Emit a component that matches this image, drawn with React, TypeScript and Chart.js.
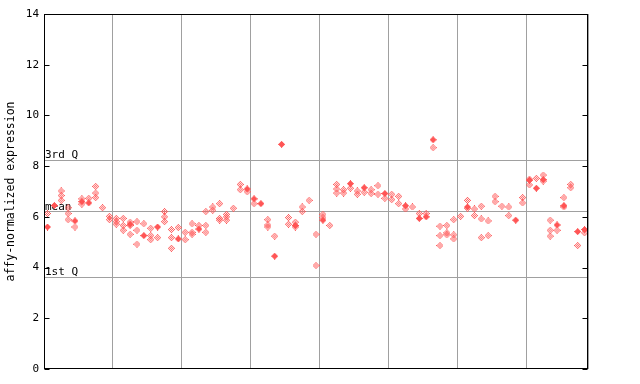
import { useEffect, useRef } from 'react';
import { Chart, registerables } from 'chart.js';
Chart.register(...registerables);

const yTicks = [0, 2, 4, 6, 8, 10, 12, 14];
const quartileValues = [3.63, 6.23, 8.24];
const quartileLabels = ['1st Q', 'mean', '3rd Q'];
const groupBoundaries = [0, 10, 20, 30, 40, 50, 60, 70, 79];
const yTitle = 'affy-normalized expression';

// per sample slot (79 slots): values drawn as checkered diamonds
const hollowValues: number[][] = [
  [6.13], [], [7.02, 6.84, 6.65], [6.36, 6.13, 5.89], [5.6], [6.71, 6.5], [6.73], [7.2, 6.94, 6.76], [6.36], [6.02, 5.89],
  [5.94, 5.81, 5.71], [5.94, 5.66, 5.47], [5.79, 5.66, 5.31], [5.81, 5.47, 4.92], [5.73], [5.55, 5.26, 5.1], [5.18], [6.21, 6.0, 5.81], [5.5, 5.18, 4.76], [5.58],
  [5.39, 5.1], [5.73, 5.39, 5.31], [5.66], [6.21, 5.66, 5.39], [6.39, 6.26], [6.52, 5.94, 5.87], [6.1, 6.0, 5.87], [6.34], [7.28, 7.07], [6.99],
  [6.52], [], [5.89, 5.68, 5.6], [5.24], [], [5.97, 5.71], [5.79, 5.6], [6.39, 6.21], [6.65], [5.31, 4.08],
  [6.1, 5.97], [5.66], [7.28, 7.1, 6.94], [7.07, 6.94], [7.13], [7.02, 6.89], [6.97], [7.07, 6.92], [7.23, 6.89], [6.73],
  [6.89, 6.68], [6.81, 6.52], [6.31], [6.39], [6.13], [6.13], [8.73], [5.63, 5.26, 4.87], [5.66, 5.37, 5.29], [5.89, 5.29, 5.13],
  [6.02], [6.65, 6.34], [6.31, 6.05], [6.42, 5.92, 5.18], [5.84, 5.26], [6.81, 6.6], [6.42], [6.39, 6.05], [], [6.76, 6.55],
  [7.49, 7.26], [7.52], [7.65, 7.41], [5.87, 5.47, 5.24], [5.47], [6.76, 6.39], [7.28, 7.15], [4.87], [5.37],
];

// per sample slot: values drawn as solid diamonds
const solidValues: number[][] = [
  [5.6], [6.45], [], [], [5.84], [6.6], [6.55], [], [], [],
  [], [], [5.71], [], [5.26], [], [5.6], [], [], [5.13],
  [], [], [5.52], [], [], [], [], [], [], [7.1],
  [6.71], [6.52], [], [4.45], [8.86], [], [5.66], [], [], [],
  [5.87], [], [], [], [7.31], [], [7.15], [], [], [6.92],
  [], [], [6.44], [], [5.94], [6.0], [9.04], [], [], [],
  [], [6.39], [], [], [], [], [], [], [5.87], [],
  [7.44], [7.13], [7.47], [], [5.68], [6.44], [], [5.42], [5.5],
];

const RED = '#ff5555';
const FONT = '"DejaVu Sans Mono", monospace';

function makeMarker(filled: boolean): HTMLCanvasElement {
  const c = document.createElement('canvas');
  c.width = 7;
  c.height = 7;
  const ctx = c.getContext('2d')!;
  ctx.fillStyle = RED;
  for (let y = 0; y < 7; y++) {
    for (let x = 0; x < 7; x++) {
      const d = Math.abs(x - 3) + Math.abs(y - 3);
      if (d <= 3 && (filled || (x + y) % 2 === 1)) ctx.fillRect(x, y, 1, 1);
    }
  }
  return c;
}

function toPoints(rows: number[][]) {
  const pts: { x: number; y: number }[] = [];
  rows.forEach((vals, i) => vals.forEach((v) => pts.push({ x: i + 0.5, y: v })));
  return pts;
}

const overlay = {
  id: 'overlay',
  beforeDatasetsDraw(chart: any) {
    const { ctx, chartArea } = chart;
    const ys = chart.scales.y;
    ctx.save();
    ctx.strokeStyle = '#a0a0a0';
    ctx.lineWidth = 1;
    quartileValues.forEach((v, i) => {
      const py = Math.round(ys.getPixelForValue(v)) + 0.5;
      ctx.beginPath();
      ctx.moveTo(chartArea.left, py);
      ctx.lineTo(chartArea.right, py);
      ctx.stroke();
      ctx.fillStyle = '#000';
      ctx.font = `11px ${FONT}`;
      ctx.textAlign = 'left';
      ctx.textBaseline = 'bottom';
      ctx.fillText(quartileLabels[i], chartArea.left + 1, py + (i === 1 ? 1 : 0));
    });
    ctx.restore();
  },
  afterDraw(chart: any) {
    const { ctx, chartArea } = chart;
    const ys = chart.scales.y;
    ctx.save();
    ctx.strokeStyle = '#000';
    ctx.lineWidth = 1;
    const l = Math.round(chartArea.left) + 0.5;
    const r = Math.round(chartArea.right) - 0.5;
    const t = Math.round(chartArea.top) + 0.5;
    const b = Math.round(chartArea.bottom) - 0.5;
    ctx.strokeRect(l, t, r - l, b - t);
    yTicks.forEach((v) => {
      const py = Math.round(ys.getPixelForValue(v)) + 0.5;
      ctx.beginPath();
      ctx.moveTo(l, py);
      ctx.lineTo(l + 5, py);
      ctx.moveTo(r, py);
      ctx.lineTo(r - 5, py);
      ctx.stroke();
    });
    ctx.restore();
  },
};

export default function App() {
  const ref = useRef<HTMLCanvasElement>(null);
  useEffect(() => {
    const chart = new Chart(ref.current!, {
      type: 'scatter',
      data: {
        datasets: [
          {
            data: toPoints(hollowValues),
            pointStyle: makeMarker(false) as any,
            pointRadius: 3,
          },
          {
            data: toPoints(solidValues),
            pointStyle: makeMarker(true) as any,
            pointRadius: 3,
          },
        ],
      },
      options: {
        animation: false,
        responsive: false,
        events: [],
        layout: { padding: { left: 0, top: 14, right: 52, bottom: 15 } },
        plugins: { legend: { display: false }, tooltip: { enabled: false } },
        scales: {
          x: {
            type: 'linear',
            min: 0,
            max: 79,
            afterBuildTicks: (s: any) => {
              s.ticks = groupBoundaries.map((v) => ({ value: v }));
            },
            afterFit: (s: any) => {
              s.height = 0;
            },
            ticks: { display: false },
            border: { display: false },
            grid: { color: '#a0a0a0', lineWidth: 1, drawTicks: false },
          },
          y: {
            min: 0,
            max: 14,
            afterBuildTicks: (s: any) => {
              s.ticks = yTicks.map((v) => ({ value: v }));
            },
            afterFit: (s: any) => {
              s.width = 44;
            },
            ticks: {
              color: '#000',
              font: { family: FONT, size: 11 },
              padding: 5,
            },
            grid: { display: false, drawTicks: false },
            border: { display: false },
            title: {
              display: true,
              text: yTitle,
              color: '#000',
              font: { family: FONT, size: 11.5 },
              padding: { top: 4, bottom: 0 },
            },
          },
        },
      },
      plugins: [overlay],
    });
    return () => chart.destroy();
  }, []);
  return (
    <div style={{ position: 'absolute', left: 0, top: 0, width: 640, height: 384, background: '#fff' }}>
      <canvas ref={ref} width={640} height={384} />
    </div>
  );
}
